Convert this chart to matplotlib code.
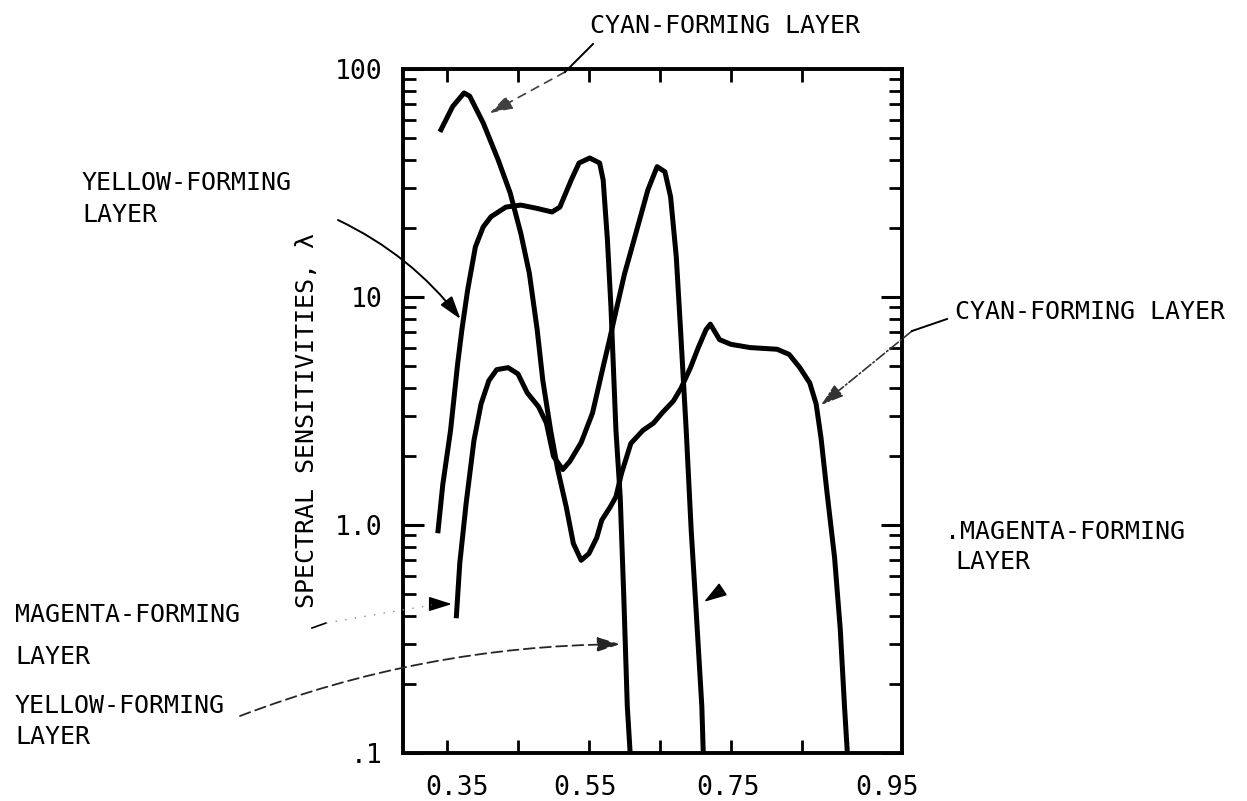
import matplotlib
matplotlib.use("Agg")
import matplotlib.pyplot as plt
from matplotlib.lines import Line2D
from matplotlib.ticker import FixedLocator, FixedFormatter, NullFormatter

# ---------------------------------------------------------------------------
# curves (wavelength in um, sensitivity)
# ---------------------------------------------------------------------------
cyan_wl = [0.340, 0.358, 0.374, 0.382, 0.401, 0.422, 0.439, 0.454, 0.466, 0.477,
           0.485, 0.496, 0.506, 0.518, 0.528, 0.539, 0.550, 0.561, 0.568, 0.580,
           0.588, 0.596, 0.609, 0.626, 0.641, 0.653, 0.669, 0.680, 0.693, 0.704,
           0.715, 0.721, 0.734, 0.750, 0.777, 0.815, 0.832, 0.847, 0.861, 0.870,
           0.877, 0.885, 0.896, 0.904, 0.910, 0.914]
cyan_s = [53, 68.5, 78.5, 76, 58, 40, 28.6, 19, 12.7, 7.2,
          4.3, 2.6, 1.75, 1.2, 0.83, 0.70, 0.75, 0.88, 1.05, 1.2,
          1.33, 1.69, 2.28, 2.6, 2.8, 3.1, 3.5, 4.0, 4.9, 6.0,
          7.2, 7.6, 6.5, 6.2, 6.0, 5.9, 5.6, 4.9, 4.2, 3.4,
          2.4, 1.42, 0.72, 0.35, 0.16, 0.1]

yellow_wl = [0.337, 0.344, 0.355, 0.365, 0.371, 0.379, 0.390, 0.401, 0.412, 0.433,
             0.454, 0.476, 0.498, 0.509, 0.525, 0.536, 0.551, 0.565, 0.570, 0.576,
             0.581, 0.588, 0.594, 0.599, 0.604, 0.608]
yellow_s = [0.92, 1.5, 2.6, 5.1, 7.2, 10.7, 16.6, 20.3, 22.5, 24.8,
            25.3, 24.5, 23.6, 24.8, 32.6, 38.7, 40.7, 38.7, 32.6, 17.8,
            9.0, 2.6, 1.33, 0.49, 0.16, 0.1]

magenta_wl = [0.363, 0.368, 0.377, 0.388, 0.398, 0.409, 0.420, 0.436, 0.450, 0.463,
              0.479, 0.490, 0.500, 0.513, 0.523, 0.539, 0.555, 0.571, 0.579, 0.587,
              0.600, 0.616, 0.633, 0.646, 0.657, 0.665, 0.673, 0.679, 0.687, 0.694,
              0.701, 0.709, 0.711]
magenta_s = [0.39, 0.68, 1.25, 2.35, 3.4, 4.3, 4.8, 4.9, 4.6, 3.8,
             3.3, 2.8, 2.0, 1.75, 1.9, 2.3, 3.1, 5.1, 6.5, 8.4,
             12.6, 19, 29.5, 37.3, 35.4, 27.5, 15, 7.2, 2.6, 0.95,
             0.42, 0.16, 0.1]

y_ticks = [0.1, 1.0, 10, 100]
y_tick_labels = [".1", "1.0", "10", "100"]
x_label_pos = [0.364, 0.544, 0.746, 0.970]     # labels sit a bit off the marks
x_tick_labels = ["0.35", "0.55", "0.75", "0.95"]
x_marks = [0.35, 0.45, 0.55, 0.65, 0.75, 0.85]

W, H = 1247, 801
FONT = "DejaVu Sans Mono"
FS = 18


def fxy(px, py):
    """pixel (from top-left) -> figure fraction"""
    return px / W, 1 - py / H


fig = plt.figure(figsize=(W / 100, H / 100), dpi=100)
ax = fig.add_axes([403 / W, 1 - 753 / H, (902 - 403) / W, (753 - 69) / H])
ax.set_yscale("log")
ax.set_xlim(0.288, 0.991)
ax.set_ylim(0.1, 100)

for wl, s in [(cyan_wl, cyan_s), (yellow_wl, yellow_s), (magenta_wl, magenta_s)]:
    ax.plot(wl, s, color="k", lw=3.6, solid_joinstyle="round", solid_capstyle="butt")

for sp in ax.spines.values():
    sp.set_linewidth(2.8)

# y axis: log ticks on both sides, pointing in
ax.yaxis.set_major_locator(FixedLocator(y_ticks))
ax.yaxis.set_major_formatter(FixedFormatter(y_tick_labels))
ax.yaxis.set_minor_locator(FixedLocator([k * 10.0 ** d for d in (-1, 0, 1) for k in range(2, 10)]))
ax.yaxis.set_minor_formatter(NullFormatter())
ax.tick_params(axis="y", which="major", direction="in", left=True, right=True,
               length=15, width=2.2, pad=15, labelsize=FS + 1)
ax.tick_params(axis="y", which="minor", direction="in", left=True, right=True,
               length=9.5, width=2.0)

# x axis: marks every 0.1, labels placed separately
ax.xaxis.set_major_locator(FixedLocator(x_label_pos))
ax.xaxis.set_major_formatter(FixedFormatter(x_tick_labels))
ax.xaxis.set_minor_locator(FixedLocator(x_marks))
ax.xaxis.set_minor_formatter(NullFormatter())
ax.tick_params(axis="x", which="major", length=0, pad=16, labelsize=FS + 1)
ax.tick_params(axis="x", which="minor", direction="in", top=True, bottom=True,
               length=9.5, width=2.0)
for lab in ax.get_xticklabels() + ax.get_yticklabels():
    lab.set_family(FONT)

fig.text(*fxy(307, 421), "SPECTRAL SENSITIVITIES, \u03bb", rotation=90,
         ha="center", va="center", fontsize=FS, family=FONT)

# layer labels
labels = [
    (590, 33, "CYAN-FORMING LAYER"),
    (82, 190, "YELLOW-FORMING"),
    (82, 222, "LAYER"),
    (955, 319, "CYAN-FORMING LAYER"),
    (945, 539, ".MAGENTA-FORMING"),
    (955, 569, "LAYER"),
    (15, 622, "MAGENTA-FORMING"),
    (15, 664, "LAYER"),
    (15, 713, "YELLOW-FORMING"),
    (15, 744, "LAYER"),
]
for px, py, s in labels:
    fig.text(*fxy(px, py), s, fontsize=FS, family=FONT, va="baseline", ha="left")

# leader lines and arrowheads
head = "-|>,head_length=0.7,head_width=0.22"


def leader(tip, start, ls="-", rad=0.0, color="k", lw=1.4):
    ax.annotate("", xy=tip, xycoords="data", xytext=fxy(*start),
                textcoords="figure fraction", annotation_clip=False,
                arrowprops=dict(arrowstyle=head, lw=lw, color=color, linestyle=ls,
                                shrinkA=0, shrinkB=0, mutation_scale=20,
                                connectionstyle=f"arc3,rad={rad}"))


def seg(p0, p1, ls="-", color="k", lw=1.4):
    (x0, y0), (x1, y1) = fxy(*p0), fxy(*p1)
    fig.add_artist(Line2D([x0, x1], [y0, y1], transform=fig.transFigure,
                          color=color, lw=lw, linestyle=ls))


# top cyan
seg((593, 44), (565, 72))
leader((0.41, 64), (565, 72), ls=(0, (5, 4)), color="0.25", lw=1.2)
# upper-left yellow
leader((0.369, 8.0), (338, 220), rad=-0.12)
# right cyan
seg((947, 319), (912, 331))
leader((0.877, 3.36), (912, 331), ls="-.", color="0.2", lw=1.2)
# right magenta (arrowhead only)
ax.annotate("", xy=(0.712, 0.46), xytext=(9, 6), textcoords="offset points",
            arrowprops=dict(arrowstyle=head, lw=1.2, color="k", shrinkA=0, shrinkB=0,
                            mutation_scale=20))
# lower-left magenta
seg((312, 628), (326, 623), lw=1.2)
seg((326, 623), (432, 605), ls=(0, (1, 6)), color="0.55", lw=1.0)
leader((0.357, 0.45), (432, 604), lw=1.2)
# lower-left yellow
leader((0.594, 0.30), (240, 716), ls=(0, (6, 3)), rad=-0.09, color="0.15", lw=1.3)

fig.savefig("out.png", dpi=100, facecolor="white")
